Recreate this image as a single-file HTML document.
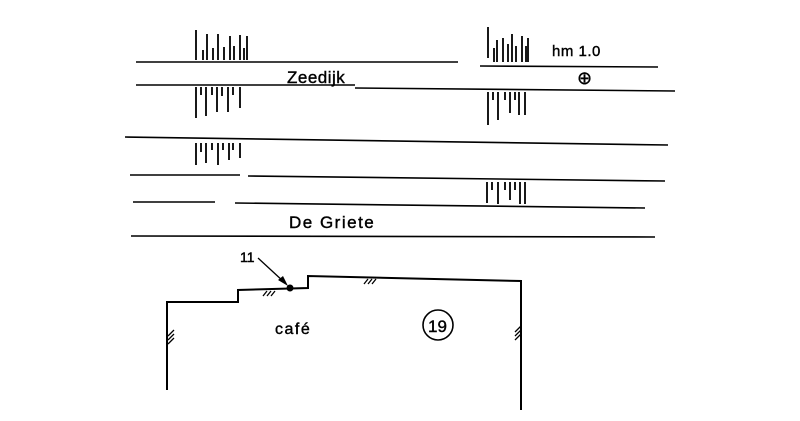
<!DOCTYPE html>
<html><head><style>body{margin:0;background:#fff}svg{display:block}</style></head><body>
<svg width="800" height="421" viewBox="0 0 800 421" xmlns="http://www.w3.org/2000/svg">
<g stroke="#000" stroke-width="1.6" fill="none">
<line x1="136" y1="62" x2="458" y2="62"/>
<line x1="480" y1="66" x2="658" y2="67"/>
<line x1="136" y1="85" x2="355" y2="85"/>
<line x1="355" y1="88" x2="675" y2="91"/>
<line x1="125" y1="137" x2="668" y2="145"/>
<line x1="130" y1="175" x2="240" y2="175"/>
<line x1="248" y1="176" x2="665" y2="181"/>
<line x1="133" y1="202" x2="215" y2="202"/>
<line x1="235" y1="203" x2="645" y2="208"/>
<line x1="131" y1="236" x2="655" y2="237"/>
</g>
<g stroke="#000" stroke-width="1.8">
<path d="M196 30V60M203 50V60M207 34V60M213 48V60M218 34V60M224 47V60M230 36V60M234 46V60M240 35V60M244 48V60M247 36V60"/>
<path d="M196 87V118M201 87V95M206 87V116M212 87V95M217 87V112M222 87V96M228 87V112M233 87V95M240 87V108"/>
<path d="M196 143V165M201 143V152M206 143V163M212 143V150M218 143V165M223 143V150M229 143V160M233 143V150M240 143V158"/>
<path d="M488 27V58M494 48V62M497 40V62M503 38V62M508 44V62M512 34V62M516 46V62M522 36V62M526 46V62M528 38V62"/>
<path d="M488 92V125M493 92V100M498 92V120M505 92V100M510 92V113M515 92V100M519 92V115M525 92V115"/>
<path d="M487 182V203M492 182V190M498 182V204M505 182V190M510 182V200M515 182V190M520 182V204M525 182V204"/>
</g>
<g font-family="Liberation Sans, sans-serif" fill="#000" stroke="#000" stroke-width="0.4">
<text x="287" y="83" font-size="17" letter-spacing="0.5">Zeedijk</text>
<text x="552" y="56" font-size="15" letter-spacing="0.5">hm 1.0</text>
<text x="577" y="84" font-size="18">⊕</text>
<text x="289" y="228" font-size="17" letter-spacing="1.5">De Griete</text>
<text x="240" y="262" font-size="14">11</text>
<text x="275" y="334" font-size="16" letter-spacing="1.5">café</text>
<text x="428" y="332" font-size="17">19</text>
</g>
<g stroke="#000" stroke-width="2" fill="none">
<polyline points="167,390 167,302 238,302 238,290 308,288 308,276 521,281 521,410"/>
<circle cx="438" cy="325" r="15" stroke-width="1.6"/>
<line x1="258" y1="258" x2="284" y2="282" stroke-width="1.3"/>
</g>
<polygon points="288,286 278,280 283,276" fill="#000"/>
<circle cx="290" cy="288" r="3.5" fill="#000"/>
<g stroke="#000" stroke-width="1.3">
<path d="M263 296l4-5M267 296l4-5M271 296l4-5"/>
<path d="M364 284l4-5M368 284l4-5M372 284l4-5"/>
<path d="M168 336l6-6M168 340l6-6M168 344l6-6"/>
<path d="M515 332l6-6M515 336l6-6M515 340l6-6"/>
</g>
</svg>
</body></html>
